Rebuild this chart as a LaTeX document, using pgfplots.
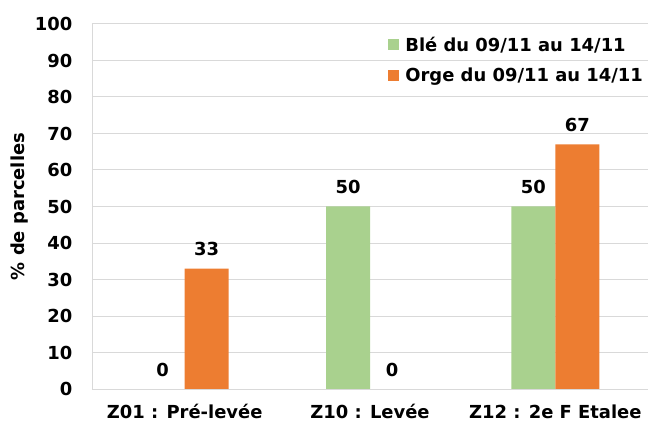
\documentclass[border=0pt]{standalone}
\usepackage{pgfplots}
\pgfplotsset{compat=1.18}
\usepackage{fontspec}
\setmainfont{DejaVu Sans}
\definecolor{cgreen}{HTML}{A9D18E}
\definecolor{corange}{HTML}{ED7D31}
\definecolor{cgrid}{HTML}{D9D9D9}
\begin{document}
\begin{tikzpicture}
\begin{axis}[name=ax,
  scale only axis, width=556bp, height=365bp,
  ybar=0pt, bar width=44bp,
  ymin=0, ymax=100, ytick distance=10,
  xmin=-0.5, xmax=2.5, xtick={0,1,2},
  xticklabels={Z01 : Pré-levée, Z10 : Levée, Z12 : 2e F Etalee},
  axis lines=left, axis line style={draw=cgrid, line width=1pt, -},
  ymajorgrids, grid style={draw=cgrid, line width=1pt},
  major tick style={draw=none},
  /pgf/number format/assume math mode=true,
  tick label style={font=\bfseries\fontsize{18}{21}\selectfont},
  yticklabel style={xshift=-14bp},
  xticklabel style={yshift=-10bp},
  ylabel={\% de parcelles},
  ylabel style={font=\bfseries\fontsize{18}{21}\selectfont, at={(axis description cs:0,0.5)}, yshift=60bp, anchor=south},
  nodes near coords,
  every node near coord/.append style={font=\bfseries\fontsize{18}{21}\selectfont, black, yshift=9bp},
  legend style={at={(1,0.976)}, anchor=north east, draw=none, fill=none,
    font=\bfseries\fontsize{18}{21}\selectfont, row sep=11bp,
    /tikz/every odd column/.append style={column sep=4bp}},
  legend cell align=left,
  legend image code/.code={\fill[#1] (0bp,-5.5bp) rectangle (11bp,5.5bp);},
]
\addplot[fill=cgreen, draw=none, bar shift=-22bp] coordinates {(1,50) (2,50)};
\addplot[fill=corange, draw=none, bar shift=22bp] coordinates {(0,33) (2,67)};
\addplot[draw=none, fill=none, bar shift=-22bp, forget plot] coordinates {(0,0)};
\addplot[draw=none, fill=none, bar shift=22bp, forget plot] coordinates {(1,0)};
\legend{Blé du 09/11 au 14/11, Orge du 09/11 au 14/11}
\end{axis}
\pgfresetboundingbox
\useasboundingbox ([shift={(-92bp,-37bp)}]ax.south west) rectangle ([shift={(0bp,24bp)}]ax.north east);
\end{tikzpicture}
\end{document}
